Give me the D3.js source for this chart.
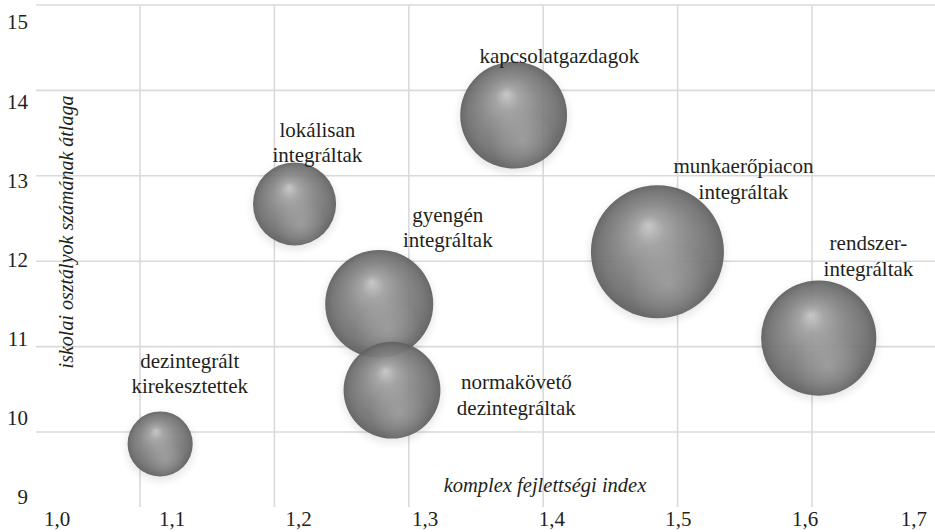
<!DOCTYPE html>
<html>
<head>
<meta charset="utf-8">
<script src="https://cdn.jsdelivr.net/npm/d3@7/dist/d3.min.js"></script>
<style>
  body { margin: 0; background: #fff; }
  svg text { font-family: "Liberation Serif", "DejaVu Serif", serif; fill: #231f20; }
</style>
</head>
<body>
<div id="chart"></div>
<script>
// csoportok (két soros címkék)
const groups = [
  ["dezintegrált", "kirekesztettek"],
  ["lokálisan", "integráltak"],
  ["gyengén", "integráltak"],
  ["normakövető", "dezintegráltak"],
  ["kapcsolatgazdagok"],
  ["munkaerőpiacon", "integráltak"],
  ["rendszer-", "integráltak"]
];
// komplex fejlettségi index
const fejlettseg = [1.115, 1.215, 1.278, 1.2875, 1.378, 1.485, 1.605];
// iskolai osztályok számának átlaga
const osztaly = [9.86, 12.67, 11.50, 10.49, 13.71, 12.11, 11.10];
// buborék mérete
const meret = [4.8, 7.8, 13.2, 10.6, 12.9, 20, 15];
// címkék helye (adat egységekben)
const labelX = [1.137, 1.232, 1.329, 1.380, 1.412, 1.549, 1.642];
const labelY = [10.75, 13.455, 12.46, 10.50, 14.32, 13.03, 12.13];

const xTicks = [1.0, 1.1, 1.2, 1.3, 1.4, 1.5, 1.6, 1.7];
const yTicks = [9, 10, 11, 12, 13, 14, 15];
const xGrid = [1.1, 1.2, 1.3, 1.4, 1.5, 1.6];
const yGrid = [10, 11, 12, 13, 14, 15];

const width = 935, height = 532;

const svg = d3.select("#chart").append("svg")
  .attr("width", width)
  .attr("height", height)
  .style("display", "block");

// rács és buborékok skálája
const x = d3.scaleLinear().domain([1.0, 1.7]).range([5.6, 946.4]);
const y = d3.scaleLinear().domain([9, 15]).range([517.4, 5]);
// tengelyfeliratok skálája (kicsit eltér a rácstól)
const xLab = d3.scaleLinear().domain([1.0, 1.7]).range([45.4, 931.6]);
const yLab = d3.scaleLinear().domain([9, 15]).range([497, 22]);
const r = d3.scaleSqrt().domain([0, d3.max(meret)]).range([0, 66.5]);

// gömb színátmenet
const defs = svg.append("defs");
const grad = defs.append("radialGradient")
  .attr("id", "sphere")
  .attr("cx", "50%").attr("cy", "50%").attr("r", "50%")
  .attr("fx", "43%").attr("fy", "30%");
[["0%", "#c6c6c6"], ["22%", "#a0a0a0"], ["52%", "#868686"], ["84%", "#707070"], ["100%", "#5e5e5e"]]
  .forEach(s => grad.append("stop").attr("offset", s[0]).attr("stop-color", s[1]));

const glow = defs.append("radialGradient")
  .attr("id", "glow")
  .attr("cx", "58%").attr("cy", "74%").attr("r", "30%");
glow.append("stop").attr("offset", "0%").attr("stop-color", "#c0c0c0").attr("stop-opacity", 0.4);
glow.append("stop").attr("offset", "100%").attr("stop-color", "#c0c0c0").attr("stop-opacity", 0);

const blur = defs.append("filter").attr("id", "shadow")
  .attr("x", "-20%").attr("y", "-20%").attr("width", "140%").attr("height", "140%");
blur.append("feGaussianBlur").attr("stdDeviation", 4);

// rácsvonalak
const grid = svg.append("g").attr("stroke", "#dadada").attr("stroke-width", 1.6);
grid.selectAll("line.h")
  .data(yGrid)
  .enter().append("line")
  .attr("class", "h")
  .attr("x1", 36).attr("x2", width)
  .attr("y1", d => y(d)).attr("y2", d => y(d));
grid.selectAll("line.v")
  .data(xGrid)
  .enter().append("line")
  .attr("class", "v")
  .attr("x1", d => x(d)).attr("x2", d => x(d))
  .attr("y1", y(15)).attr("y2", 507);

const data = groups.map((g, i) => ({
  name: g, x: fejlettseg[i], y: osztaly[i], size: meret[i], lx: labelX[i], ly: labelY[i]
}));

// buborékok
const bubble = svg.append("g").selectAll("g")
  .data(data)
  .enter().append("g")
  .attr("transform", d => `translate(${x(d.x)},${y(d.y)})`);

bubble.append("circle")
  .attr("cy", 3)
  .attr("r", d => r(d.size) + 1)
  .attr("fill", "#000")
  .attr("opacity", 0.1)
  .attr("filter", "url(#shadow)");
bubble.append("circle")
  .attr("r", d => r(d.size))
  .attr("fill", "url(#sphere)")
  .attr("opacity", 0.93);
bubble.append("circle")
  .attr("r", d => r(d.size))
  .attr("fill", "url(#glow)");

// címkék
const lab = svg.append("g").selectAll("text")
  .data(data)
  .enter().append("text")
  .attr("text-anchor", "middle")
  .style("font-size", "21px")
  .attr("x", d => x(d.lx))
  .attr("y", d => y(d.ly));
lab.selectAll("tspan")
  .data(d => d.name.map(t => ({ t, lx: d.lx })))
  .enter().append("tspan")
  .attr("x", d => x(d.lx))
  .attr("dy", (d, i) => i === 0 ? 0 : 25.5)
  .text(d => d.t);

// y tengely feliratai
svg.append("g").selectAll("text")
  .data(yTicks)
  .enter().append("text")
  .attr("x", 28)
  .attr("y", d => yLab(d))
  .attr("dy", "0.35em")
  .attr("text-anchor", "end")
  .style("font-size", "21px")
  .text(d => d);

// x tengely feliratai
const fmt = d => d3.format(".1f")(d).replace(".", ",");
const xt = svg.append("g").selectAll("text")
  .data(xTicks)
  .enter().append("text")
  .attr("x", d => xLab(d))
  .attr("y", 526)
  .attr("text-anchor", "middle")
  .style("font-size", "21px")
  .text(fmt);
// szélső feliratok a képen belül maradnak
xt.each(function() {
  const w = this.getComputedTextLength();
  const cx = +this.getAttribute("x");
  const c = Math.max(44 + w / 2, Math.min(927 - w / 2, cx));
  this.setAttribute("x", c);
});

// tengelycímek
svg.append("text")
  .attr("x", 545)
  .attr("y", 492)
  .attr("text-anchor", "middle")
  .style("font-size", "20.5px")
  .style("font-style", "italic")
  .text("komplex fejlettségi index");

svg.append("text")
  .attr("transform", "translate(73,232) rotate(-90)")
  .attr("text-anchor", "middle")
  .style("font-size", "20px")
  .style("font-style", "italic")
  .text("iskolai osztályok számának átlaga");
</script>
</body>
</html>
